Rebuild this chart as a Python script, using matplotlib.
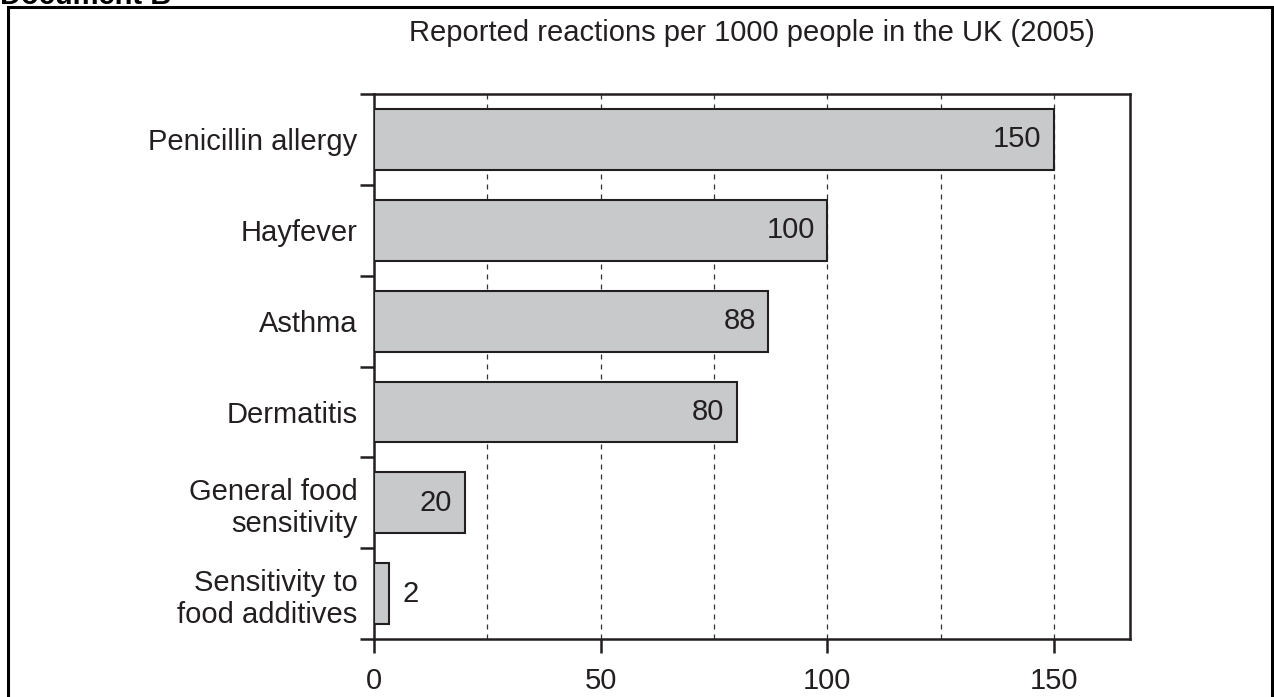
import matplotlib
matplotlib.use("Agg")
import matplotlib.pyplot as plt
from matplotlib.patches import Rectangle

# Data
categories = ["Penicillin allergy", "Hayfever", "Asthma", "Dermatitis",
              "General food\nsensitivity", "Sensitivity to\nfood additives"]
bar_lengths = [150, 100, 87, 80, 20, 3.3]
value_labels = ["150", "100", "88", "80", "20", "2"]
x_ticks = [0, 50, 100, 150]
grid_x = [25, 50, 75, 100, 125, 150]

ink = "#231f20"
fs = 21
plt.rcParams['font.family'] = ['Liberation Sans', 'DejaVu Sans']
plt.rcParams['text.color'] = ink

fig = plt.figure(figsize=(12.74, 6.97), dpi=100)
ax = fig.add_axes([0.2936, 0.0832, 0.5934, 0.7819])

# outer document frame
fig.patches.append(Rectangle((8 / 1274, -0.05), 1264 / 1274, 1.05 - 7 / 697,
                             transform=fig.transFigure, fill=False,
                             edgecolor="black", linewidth=2.2))
fig.text(0.0, 0.9943, "Document B", fontsize=fs, fontweight="bold",
         va="baseline", ha="left", color="black")
fig.text(0.590, 0.952, "Reported reactions per 1000 people in the UK (2005)",
         fontsize=fs, ha="center", va="center")

pos = list(range(len(categories)))
ax.barh(pos, bar_lengths, height=0.67, color="#c8c9cb", edgecolor=ink,
        linewidth=1.5, zorder=3)

for p, v, lab in zip(pos, bar_lengths, value_labels):
    if v > 10:
        ax.annotate(lab, (v, p), xytext=(-9, 0), textcoords="offset points",
                    ha="right", va="center", fontsize=fs, zorder=4)
    else:
        ax.annotate(lab, (v, p), xytext=(10, 0), textcoords="offset points",
                    ha="left", va="center", fontsize=fs, zorder=4)

for gx in grid_x:
    ax.axvline(gx, color="#333333", linewidth=0.9, linestyle=(0, (4, 4)), zorder=1)

ax.set_xlim(0, 166.8)
ax.set_ylim(len(categories) - 0.5, -0.5)

ax.set_xticks(x_ticks)
ax.set_xticklabels([str(t) for t in x_ticks])
ax.set_yticks([i - 0.5 for i in range(len(categories) + 1)])
ax.set_yticklabels([])
ax.set_yticks(pos, minor=True)
ax.set_yticklabels(categories, minor=True, fontsize=fs, ha="right")

ax.tick_params(axis="x", length=10, width=1.8, color=ink, labelsize=fs, pad=10,
               labelcolor=ink)
ax.tick_params(axis="y", which="major", length=10, width=1.8, color=ink)
ax.tick_params(axis="y", which="minor", length=0, pad=12, labelcolor=ink)

for s in ax.spines.values():
    s.set_linewidth(1.8)
    s.set_color(ink)

fig.savefig("out.png", dpi=100)
